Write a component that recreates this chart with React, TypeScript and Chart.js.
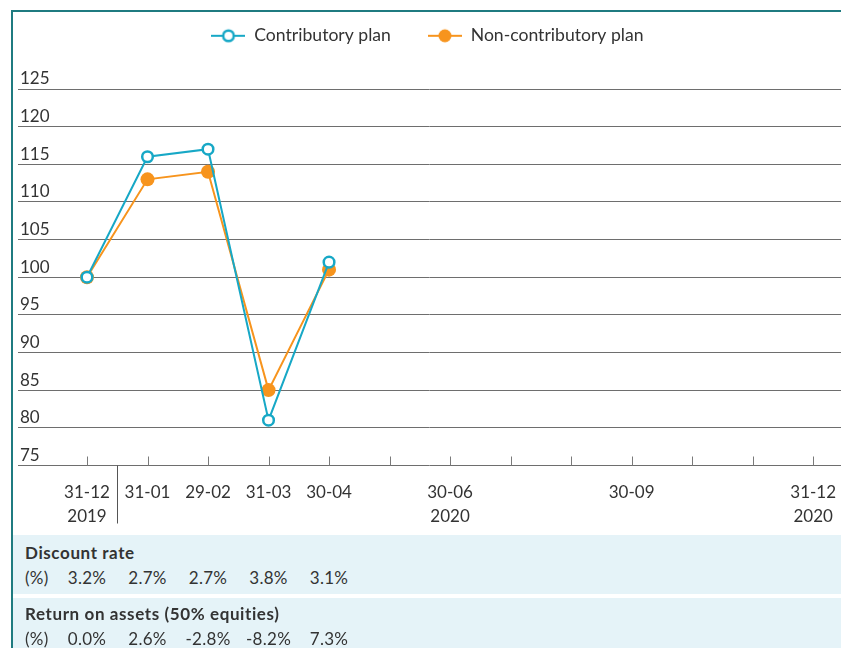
import React, { useEffect, useRef } from "react";
import { Chart, registerables } from "chart.js";

Chart.register(...registerables);

// ---- data ----
const xLabels: (string | string[])[] = [
  ["31-12", "2019"], "31-01", "29-02", "31-03", "30-04", "",
  ["30-06", "2020"], "", "", "30-09", "", "", ["31-12", "2020"],
];
const contributory = [100, 116, 117, 81, 102];
const nonContributory = [100, 113, 114, 85, 101];
const yMin = 75;
const yMax = 125;
const yStep = 5;
const discountRate = ["3.2%", "2.7%", "2.7%", "3.8%", "3.1%"];
const returnOnAssets = ["0.0%", "2.6%", "-2.8%", "-8.2%", "7.3%"];
const seriesNames = ["Contributory plan", "Non-contributory plan"];

const CYAN = "#17a8c6";
const ORANGE = "#f7941d";
const TEXT = "#333333";
const FONT = "Lato, 'Open Sans', sans-serif";

function makeMarker(color: string, filled: boolean) {
  const c = document.createElement("canvas");
  c.width = 34;
  c.height = 16;
  const ctx = c.getContext("2d")!;
  ctx.strokeStyle = color;
  ctx.lineWidth = 2;
  ctx.beginPath();
  ctx.moveTo(0, 8);
  ctx.lineTo(34, 8);
  ctx.stroke();
  ctx.beginPath();
  ctx.arc(17, 8, filled ? 6.5 : 5.3, 0, Math.PI * 2);
  ctx.fillStyle = filled ? color : "#ffffff";
  ctx.fill();
  if (!filled) {
    ctx.lineWidth = 2.5;
    ctx.stroke();
  }
  return c;
}

const axisDecor = {
  id: "axisDecor",
  afterDraw(chart: any) {
    const { ctx, scales } = chart;
    const x = scales.x;
    const y = scales.y;
    const base = Math.round(y.getPixelForValue(yMin)) + 0.5;
    ctx.save();
    ctx.strokeStyle = "#7a7a7a";
    ctx.lineWidth = 1;
    x.ticks.forEach((t: any) => {
      const px = Math.round(x.getPixelForValue(t.value)) + 0.5;
      ctx.beginPath();
      ctx.moveTo(px, base);
      ctx.lineTo(px, base - 9);
      ctx.stroke();
    });
    const sep = Math.round(x.getPixelForValue(0.5)) + 0.5;
    ctx.strokeStyle = "#555555";
    ctx.beginPath();
    ctx.moveTo(sep, base);
    ctx.lineTo(sep, base + 58);
    ctx.stroke();
    ctx.restore();
  },
};

const legendSpacer = {
  id: "legendSpacer",
  beforeInit(chart: any) {
    const orig = chart.legend.fit;
    chart.legend.fit = function () {
      orig.call(this);
      this.height += 34.4;
    };
  },
};

export default function App() {
  const ref = useRef<HTMLCanvasElement | null>(null);

  useEffect(() => {
    if (!ref.current) return;
    const markers = [makeMarker(CYAN, false), makeMarker(ORANGE, true)];
    const chart = new Chart(ref.current, {
      type: "line",
      data: {
        datasets: [
          {
            label: seriesNames[0],
            data: contributory.map((v, i) => ({ x: i, y: v })),
            borderColor: CYAN,
            backgroundColor: "#ffffff",
            pointBackgroundColor: "#ffffff",
            pointBorderColor: CYAN,
            pointBorderWidth: 2.5,
            pointRadius: 5.3,
            borderWidth: 2,
            tension: 0,
          },
          {
            label: seriesNames[1],
            data: nonContributory.map((v, i) => ({ x: i, y: v })),
            borderColor: ORANGE,
            backgroundColor: ORANGE,
            pointBackgroundColor: ORANGE,
            pointBorderColor: ORANGE,
            pointBorderWidth: 0,
            pointRadius: 7,
            borderWidth: 2,
            tension: 0,
          },
        ],
      },
      options: {
        animation: false,
        responsive: false,
        maintainAspectRatio: false,
        layout: { autoPadding: false, padding: { left: 14, right: 0, top: -10, bottom: 0 } },
        plugins: {
          tooltip: { enabled: false },
          legend: {
            display: true,
            position: "top",
            align: "center",
            labels: {
              usePointStyle: true,
              pointStyleWidth: 34,
              padding: 37,
              color: TEXT,
              font: { family: FONT, size: 17.6 },
              generateLabels: (c: any) => {
                const items = (Chart.defaults as any).plugins.legend.labels.generateLabels(c);
                items.forEach((it: any, i: number) => {
                  it.pointStyle = markers[i];
                });
                return items;
              },
            },
          },
        },
        scales: {
          x: {
            type: "linear",
            min: -1.14,
            max: 12.46,
            border: { display: false },
            grid: { display: false, drawTicks: false },
            afterBuildTicks: (axis: any) => {
              axis.ticks = xLabels.map((_, i) => ({ value: i }));
            },
            afterFit: (axis: any) => {
              axis.paddingLeft = 0;
              axis.paddingRight = 0;
            },
            ticks: {
              autoSkip: false,
              maxRotation: 0,
              minRotation: 0,
              padding: 15,
              color: TEXT,
              font: { family: FONT, size: 17, lineHeight: 1.4 },
              callback: (v: any) => xLabels[Math.round(Number(v))] ?? "",
            },
          },
          y: {
            type: "linear",
            min: yMin,
            max: yMax,
            border: { display: false },
            grid: { color: "#6e6e6e", lineWidth: 1, drawTicks: false },
            ticks: {
              stepSize: yStep,
              mirror: true,
              padding: 2,
              labelOffset: -10,
              color: TEXT,
              font: { family: FONT, size: 17 },
            },
          },
        },
      },
      plugins: [axisDecor, legendSpacer],
    } as any);
    return () => chart.destroy();
  }, []);

  const valueCell = (txt: string, i: number) => (
    <span
      key={i}
      style={{
        position: "absolute",
        left: 87 - 13 + 60.5 * i - 40,
        width: 80,
        textAlign: "center",
      }}
    >
      {txt}
    </span>
  );

  return (
    <div
      style={{
        position: "absolute",
        left: 0,
        top: 0,
        width: 841,
        height: 648,
        overflow: "hidden",
        background: "#ffffff",
        fontFamily: FONT,
        color: TEXT,
      }}
    >
      <canvas ref={ref} width={841} height={543} style={{ position: "absolute", left: 0, top: 0, width: 841, height: 543 }} />
      <div style={{ position: "absolute", left: 11, top: 10, width: 840, height: 650, borderLeft: "2px solid #1f7b80", borderTop: "2px solid #1f7b80", pointerEvents: "none" }} />
      <div style={{ position: "absolute", left: 13, top: 535, width: 828, height: 59, background: "#e5f3f8", fontSize: 17 }}>
        <div style={{ position: "absolute", left: 12, top: 7, fontWeight: 700, letterSpacing: 0.6 }}>Discount rate</div>
        <div style={{ position: "absolute", left: 0, top: 32, width: 828, height: 22, letterSpacing: 0.3 }}>
          <span style={{ position: "absolute", left: 12 }}>(%)</span>
          {discountRate.map((t, i) => valueCell(t, i))}
        </div>
      </div>
      <div style={{ position: "absolute", left: 13, top: 598, width: 828, height: 55, background: "#e5f3f8", fontSize: 17 }}>
        <div style={{ position: "absolute", left: 12, top: 5, fontWeight: 700, letterSpacing: 0.6 }}>Return on assets (50% equities)</div>
        <div style={{ position: "absolute", left: 0, top: 30, width: 828, height: 22, letterSpacing: 0.3 }}>
          <span style={{ position: "absolute", left: 12 }}>(%)</span>
          {returnOnAssets.map((t, i) => valueCell(t, i))}
        </div>
      </div>
    </div>
  );
}
